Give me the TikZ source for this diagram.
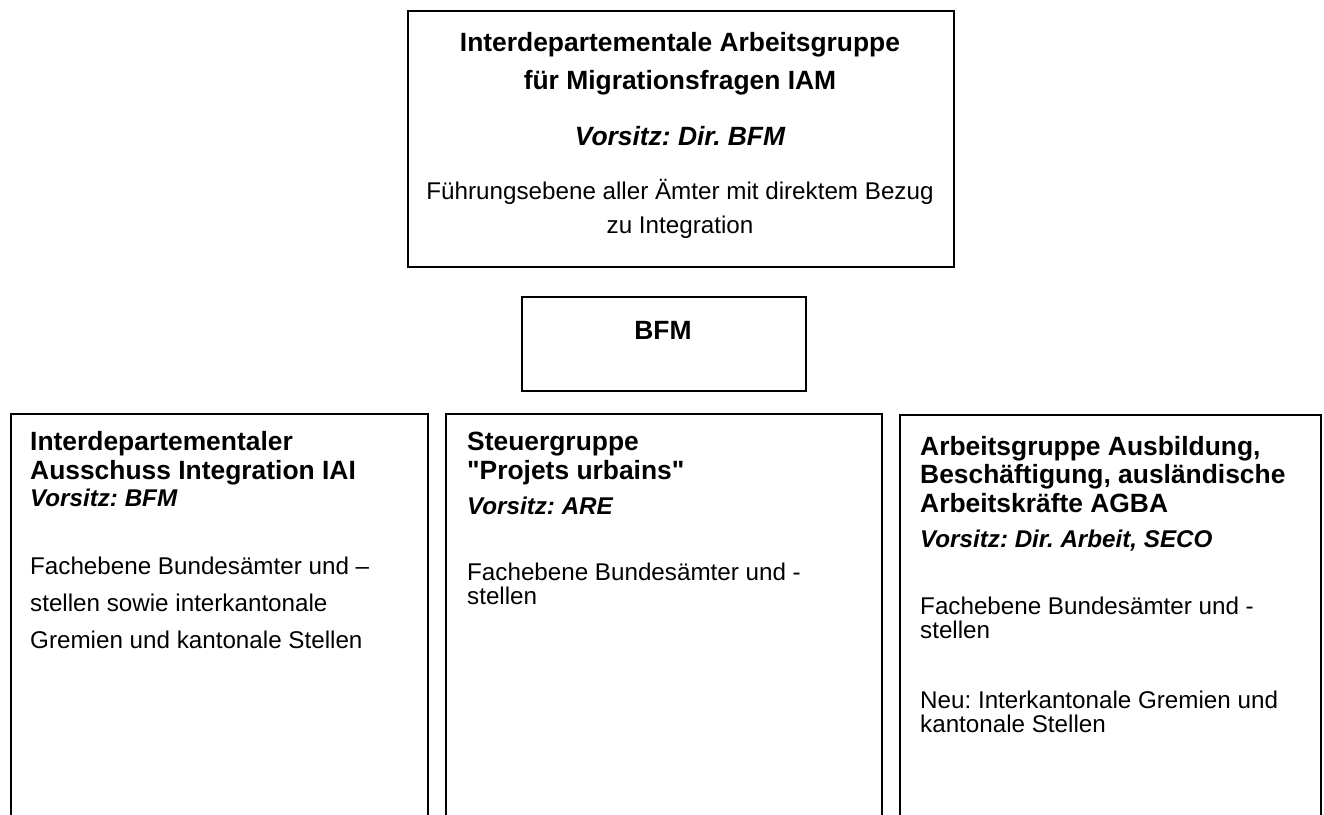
\documentclass[tikz,border=0pt]{standalone}
\usepackage{fontspec}
\setmainfont{Liberation Sans}[Ligatures=TeXOff]
\frenchspacing
\usetikzlibrary{positioning}

\tikzset{
  orgbox/.style={draw, line width=1.8pt, inner sep=0pt, anchor=north west},
  title/.style={font=\bfseries\fontsize{26.4}{38}\selectfont, align=center, anchor=base, inner sep=0pt},
  head/.style={font=\bfseries\fontsize{26.4}{28.5}\selectfont, align=left, anchor=base west, inner sep=0pt},
  chair/.style={font=\bfseries\itshape\fontsize{24.2}{28}\selectfont, anchor=base west, inner sep=0pt},
  body/.style={font=\fontsize{24.2}{#1}\selectfont, align=left, anchor=base west, inner sep=0pt},
  body/.default=23.5
}

\begin{document}
\begin{tikzpicture}[x=1pt,y=-1pt]
  \useasboundingbox (0,0) rectangle (1324,814);
  \clip (0,0) rectangle (1324,814);

  % IAM oben (base = letzte Zeile)
  \node[orgbox, minimum width=546pt, minimum height=256pt] (iam) at (407,10) {};
  \node[title] (iam-name) at (680,89) {Interdepartementale Arbeitsgruppe\\für Migrationsfragen IAM};
  \node[title, font=\bfseries\itshape\fontsize{26.4}{30}\selectfont] (iam-vorsitz) at (680,145) {Vorsitz: Dir. BFM};
  \node[title, font=\fontsize{24.2}{34}\selectfont] (iam-text) at (680,233) {Führungsebene aller Ämter mit direktem Bezug\\zu Integration};

  % BFM
  \node[orgbox, minimum width=284pt, minimum height=94pt] (bfm) at (521,296) {};
  \node[title] (bfm-name) at (663,339) {BFM};

  % untere Reihe (unten abgeschnitten)
  \node[orgbox, minimum width=417pt, minimum height=450pt] (iai) at (10,413) {};
  \node[orgbox, minimum width=436pt, minimum height=450pt] (pu) at (445,413) {};
  \node[orgbox, minimum width=421pt, minimum height=450pt] (agba) at (899,414) {};

  % IAI
  \node[head] (iai-name) at (30,479) {Interdepartementaler\\Ausschuss Integration IAI};
  \node[chair] (iai-vorsitz) at (30,506) {Vorsitz: BFM};
  \node[body=37] (iai-text) at (30,648) {Fachebene Bundesämter und –\\stellen sowie interkantonale\\Gremien und kantonale Stellen};

  % Projets urbains
  \node[head] (pu-name) at (467,479) {Steuergruppe\\"Projets urbains"};
  \node[chair] (pu-vorsitz) at (467,514) {Vorsitz: ARE};
  \node[body] (pu-text) at (467,604) {Fachebene Bundesämter und -\\stellen};

  % AGBA
  \node[head] (agba-name) at (920,512) {Arbeitsgruppe Ausbildung,\\Beschäftigung, ausländische\\Arbeitskräfte AGBA};
  \node[chair] (agba-vorsitz) at (920,547) {Vorsitz: Dir. Arbeit, SECO};
  \node[body] (agba-text) at (920,638) {Fachebene Bundesämter und -\\stellen};
  \node[body] (agba-neu) at (920,732) {Neu: Interkantonale Gremien und\\kantonale Stellen};
\end{tikzpicture}
\end{document}
